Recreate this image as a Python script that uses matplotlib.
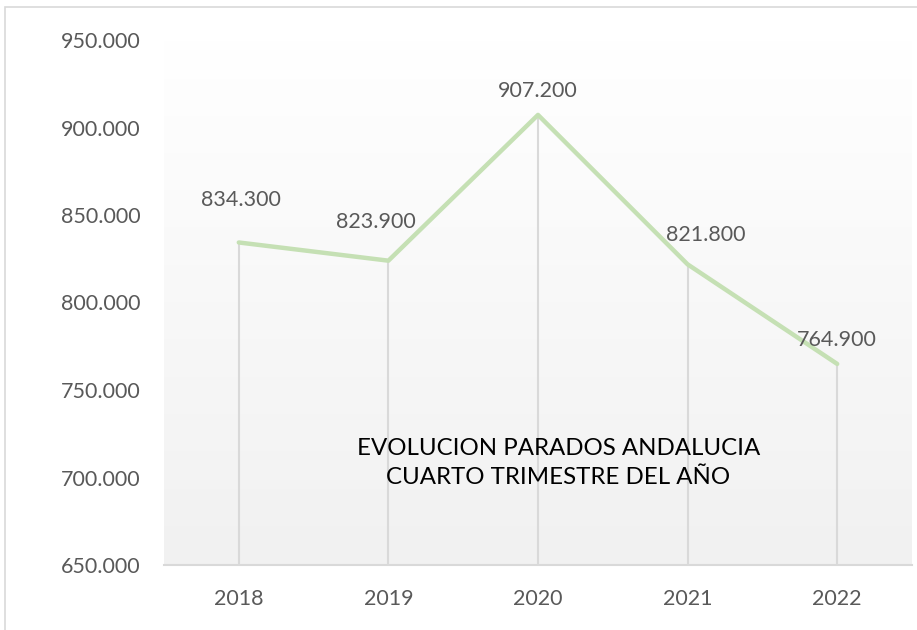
import matplotlib
matplotlib.use("Agg")
import matplotlib.pyplot as plt
import numpy as np
from matplotlib.patches import Rectangle

years = ["2018", "2019", "2020", "2021", "2022"]
parados = [834300, 823900, 907200, 821800, 764900]
label_text = ["834.300", "823.900", "907.200", "821.800", "764.900"]
yticks = [650000, 700000, 750000, 800000, 850000, 900000, 950000]
ytick_labels = ["650.000", "700.000", "750.000", "800.000", "850.000", "900.000", "950.000"]
title_text = "EVOLUCION PARADOS ANDALUCIA\nCUARTO TRIMESTRE DEL AÑO"

# label offsets in pixels (style)
offsets = [(2, 42), (-13, 39), (0, 24), (18, 29), (0, 24)]

plt.rcParams['font.family'] = ['Lato', 'DejaVu Sans']
DPI = 100
fig = plt.figure(figsize=(9.17, 6.3), dpi=DPI)
fig.patch.set_facecolor("white")

# chart border
fig.patches.append(Rectangle((5/917, -0.05), 1.2, 1 - 7/630 + 0.05, transform=fig.transFigure,
                             fill=False, edgecolor="#d9d9d9", linewidth=1.2))

ax = fig.add_axes([164/917, 1 - 565/630, 748/917, (565 - 40)/630])
x = np.arange(len(years))
ax.set_xlim(-0.5, len(years) - 0.5)
ax.set_ylim(650000, 950000)

# gradient background: white at top, light gray at bottom
grad = np.linspace(0, 1, 256).reshape(-1, 1)
top = np.array([1.0, 1.0, 1.0])
bot = np.array([0.945, 0.945, 0.945])
img = (top + (bot - top) * grad).reshape(256, 1, 3)
ax.imshow(img, extent=[-0.5, len(years) - 0.5, 650000, 950000], aspect="auto",
          zorder=0, origin="upper")

# drop lines
ax.vlines(x, 650000, parados, colors="#d9d9d9", linewidth=1.5, zorder=1)
ax.plot(x, parados, color="#c5e0b4", linewidth=3.2, solid_capstyle="round", zorder=3)

for xi, v, t, (dx, dy) in zip(x, parados, label_text, offsets):
    ax.annotate(t, (xi, v), xytext=(dx * 72 / DPI, dy * 72 / DPI), textcoords="offset points",
                ha="center", va="center", fontsize=15.5, color="#595959", zorder=4)

ax.text(0.527, 0.194, title_text, transform=ax.transAxes, ha="center", va="center",
        fontsize=17.3, color="black", linespacing=1.5, zorder=5)

ax.set_xticks(x)
ax.set_xticklabels(years)
ax.set_yticks(yticks)
ax.set_yticklabels(ytick_labels)
ax.tick_params(axis="both", length=0, labelsize=15.5, labelcolor="#595959")
ax.tick_params(axis="x", pad=17)
ax.tick_params(axis="y", pad=17)
for s in ["top", "right", "left"]:
    ax.spines[s].set_visible(False)
ax.spines["bottom"].set_color("#d9d9d9")
ax.spines["bottom"].set_linewidth(1.5)
ax.set_facecolor("white")

fig.savefig("out.png", dpi=DPI, facecolor="white")
